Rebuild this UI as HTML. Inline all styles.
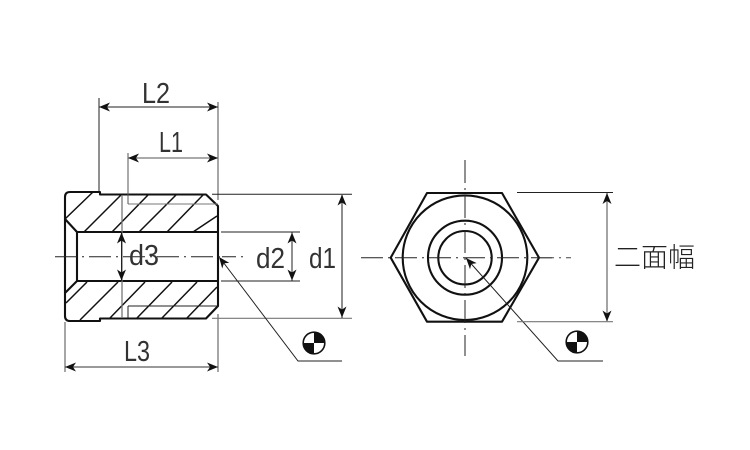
<!DOCTYPE html>
<html><head><meta charset="utf-8"><style>
html,body{margin:0;padding:0;background:#fff}
svg{display:block}
text{font-family:"Liberation Sans","Noto Sans CJK JP",sans-serif;font-size:29px;fill:#333}
.b{fill:none;stroke:#111;stroke-width:2.1;stroke-linejoin:round}
.h{fill:none;stroke:#111;stroke-width:1.5}
.t{fill:none;stroke:#222;stroke-width:1}
.g{fill:none;stroke:#777;stroke-width:1.2}
.c{fill:none;stroke:#222;stroke-width:1;stroke-dasharray:22 5 2 5}
</style></head><body>
<svg width="750" height="450" viewBox="0 0 750 450" xmlns="http://www.w3.org/2000/svg">
<defs>
<path id="a" d="M0 0L-11 -4.500L-8 0L-11 4.500Z" fill="#111"/>
<g id="sym"><circle r="10.800" fill="#fff" stroke="#111" stroke-width="1.600"/><path d="M0 0V-10.800A10.800 10.800 0 0 1 10.800 0ZM0 0V10.800A10.800 10.800 0 0 1 -10.800 0Z" fill="#111"/></g>
</defs>

<!-- left view hatch -->
<g class="h">
<path d="M65 219L93 192M84 232L121 195M112 232L148 195M139 232L176 195M167 232L203 195M193 232L217 216"/>
<path d="M66 303L87 282M80 320L118 282M110 318L145 282M137 318L172 282M162 318L197 282M187 318L217 287"/>
</g>
<!-- left body -->
<path class="b" d="M100 192H70Q65 192 65 197V316Q65 321 70 321H100V318.500H206L218 306V206L206 194.500H100Z"/>
<path class="b" d="M65 219L77 232V281L65 293M77 232H218M77 281H218"/>
<path class="t" d="M128 306H218M128 306V318"/>
<path class="g" d="M128 204H218" style="stroke-width:1"/>
<path class="c" d="M55 256.700H222"/>
<path class="c" d="M222 256.700H243" style="stroke-dasharray:14 5 2 5"/>

<!-- L dims -->
<path class="t" d="M99 98V191"/>
<path class="t" style="stroke:#555" d="M128 153V204"/>
<path class="g" d="M218 102V200M218 314V372M65 322V372M122 195V318" style="stroke-width:1.300"/>
<path class="t" d="M99 107H218"/>
<path class="g" d="M128 158H218"/>
<path class="t" style="stroke:#333" d="M65 367H218"/>
<use href="#a" transform="translate(99,107) rotate(180)"/><use href="#a" transform="translate(218,107)"/>
<use href="#a" transform="translate(128,158) rotate(180)"/><use href="#a" transform="translate(218,158)"/>
<use href="#a" transform="translate(65,367) rotate(180)"/><use href="#a" transform="translate(218,367)"/>
<!-- d3 -->
<path class="t" d="M121.500 232V281"/>
<use href="#a" transform="translate(121.500,232.500) rotate(-90)"/><use href="#a" transform="translate(121.500,280.500) rotate(90)"/>
<!-- d2 d1 -->
<path class="t" d="M212 194.300H352M221 232H300M221 281H300"/>
<path class="g" d="M212 318.300H352"/>
<path class="t" d="M292 232V281"/>
<path class="g" d="M342 195V318" style="stroke:#444"/>
<use href="#a" transform="translate(292,232.500) rotate(-90)"/><use href="#a" transform="translate(292,280.500) rotate(90)"/>
<use href="#a" transform="translate(342,194.500) rotate(-90)"/><use href="#a" transform="translate(342,317.500) rotate(90)"/>
<!-- leader left -->
<path class="t" d="M220 258L298 361H342"/>
<use href="#a" transform="translate(219,257) rotate(232)"/>
<use href="#sym" transform="translate(314,343)"/>

<!-- hex view -->
<path class="b" d="M390.700 257.700L427 193H502L539 257.700L502 321.700H427Z"/>
<circle class="b" cx="465" cy="257.700" r="62.300"/>
<circle class="b" cx="465" cy="257.700" r="37"/>
<circle class="b" cx="465" cy="257.700" r="26.700"/>
<path class="t" style="stroke-dasharray:22 5 2 5" d="M361 257.700H552"/>
<path class="t" style="stroke:#444;stroke-dasharray:14 5 2 5" d="M540 257.700H571"/>
<path class="t" style="stroke-dasharray:23 5 2 5" d="M465 160V356"/>
<path class="t" d="M466 258L558 361H603"/>
<use href="#a" transform="translate(466,258) rotate(228)"/>
<use href="#sym" transform="translate(577,342)"/>
<path class="t" d="M517 192.500H613"/>
<path class="g" d="M517 321.700H613"/>
<path class="g" d="M607 193V321" style="stroke:#666"/>
<use href="#a" transform="translate(607,193) rotate(-90)"/><use href="#a" transform="translate(607,321.500) rotate(90)"/>

<!-- labels -->
<text x="142" y="103" textLength="28" lengthAdjust="spacingAndGlyphs">L2</text>
<text x="159" y="152" textLength="24" lengthAdjust="spacingAndGlyphs">L1</text>
<text x="124" y="361" textLength="26" lengthAdjust="spacingAndGlyphs">L3</text>
<text x="129" y="265" textLength="30" lengthAdjust="spacingAndGlyphs">d3</text>
<text x="256" y="268" textLength="29" lengthAdjust="spacingAndGlyphs">d2</text>
<text x="309" y="268" textLength="27" lengthAdjust="spacingAndGlyphs">d1</text>
<text x="614" y="267" textLength="81" lengthAdjust="spacingAndGlyphs" style="font-family:'Noto Sans CJK JP','Liberation Sans',sans-serif;font-weight:300;font-size:27px;fill:#222">二面幅</text>
</svg>
</body></html>
